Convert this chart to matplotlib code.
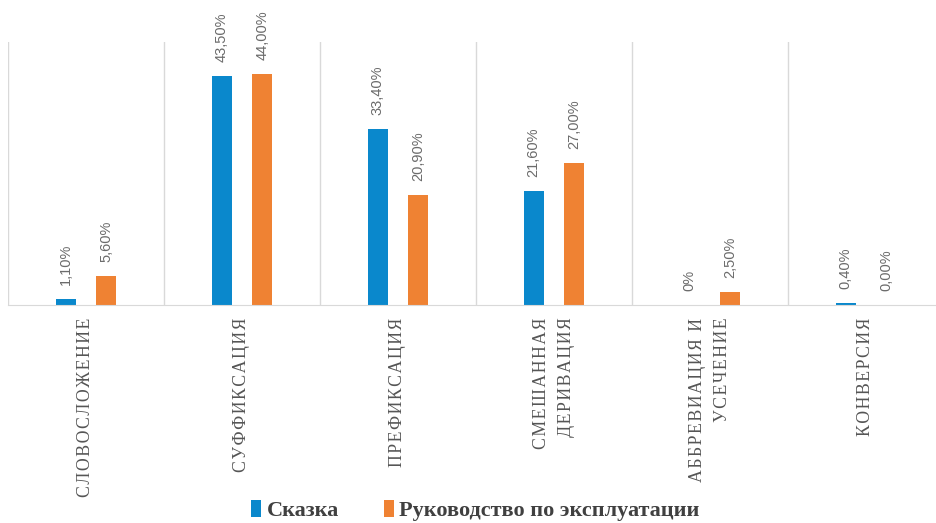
import numpy as np
import matplotlib.pyplot as plt

# Word-formation methods and their shares (%)
categories = ['СЛОВОСЛОЖЕНИЕ', 'СУФФИКСАЦИЯ', 'ПРЕФИКСАЦИЯ',
              'СМЕШАННАЯ\nДЕРИВАЦИЯ', 'АББРЕВИАЦИЯ И\nУСЕЧЕНИЕ', 'КОНВЕРСИЯ']
skazka = [1.1, 43.5, 33.4, 21.6, 0.0, 0.4]
manual = [5.6, 44.0, 20.9, 27.0, 2.5, 0.0]
skazka_labels = ['1,10%', '43,50%', '33,40%', '21,60%', '0%', '0,40%']
manual_labels = ['5,60%', '44,00%', '20,90%', '27,00%', '2,50%', '0,00%']
series_names = ['Сказка', 'Руководство по эксплуатации']

blue = '#0a88cc'
orange = '#ef8233'


def spaced(text):
    # add a little tracking between letters
    return '\n'.join('\u200a'.join(line) for line in text.split('\n'))


fig = plt.figure(figsize=(9.36, 5.23), dpi=100)
ax = fig.add_axes([8 / 936, 1 - 305 / 523, 1.0, (305 - 42) / 523])

x = np.arange(len(categories))
w = 0.13
off = 0.13
ax.bar(x - off, skazka, w, color=blue, label=series_names[0])
ax.bar(x + off, manual, w, color=orange, label=series_names[1])

for xi, v, s in zip(x, skazka, skazka_labels):
    ax.annotate(s, (xi - off, v), xytext=(0, 10), textcoords='offset points',
                rotation=90, ha='center', va='bottom', fontsize=10.5,
                family='Liberation Sans', color='#6b6b6b')
for xi, v, s in zip(x, manual, manual_labels):
    ax.annotate(s, (xi + off, v), xytext=(0, 10), textcoords='offset points',
                rotation=90, ha='center', va='bottom', fontsize=10.5,
                family='Liberation Sans', color='#6b6b6b')

# vertical separators between categories
for b in np.arange(len(categories) + 1) - 0.5:
    ax.axvline(b, color='#d9d9d9', lw=1, zorder=0)

ax.set_xlim(-0.5, len(categories) - 0.5)
ax.set_ylim(0, 50)
ax.set_yticks([])
ax.set_xticks(x)
ax.set_xticklabels([spaced(c) for c in categories], rotation=90,
                   family='Liberation Serif', fontsize=12.8, color='#555555',
                   ha='center', va='top', multialignment='right',
                   linespacing=1.6)
ax.tick_params(axis='x', length=0, pad=9)
for side in ['left', 'right', 'top']:
    ax.spines[side].set_visible(False)
ax.spines['bottom'].set_color('#d9d9d9')

leg = fig.legend(loc='lower center', bbox_to_anchor=(0.508, -0.034), ncol=2,
                 frameon=False, handlelength=0.45, handleheight=0.8,
                 handletextpad=0.25, columnspacing=2.0,
                 prop={'family': 'Liberation Serif', 'weight': 'bold', 'size': 16})
for t in leg.get_texts():
    t.set_color('#404040')

fig.savefig('out.png', dpi=100)
